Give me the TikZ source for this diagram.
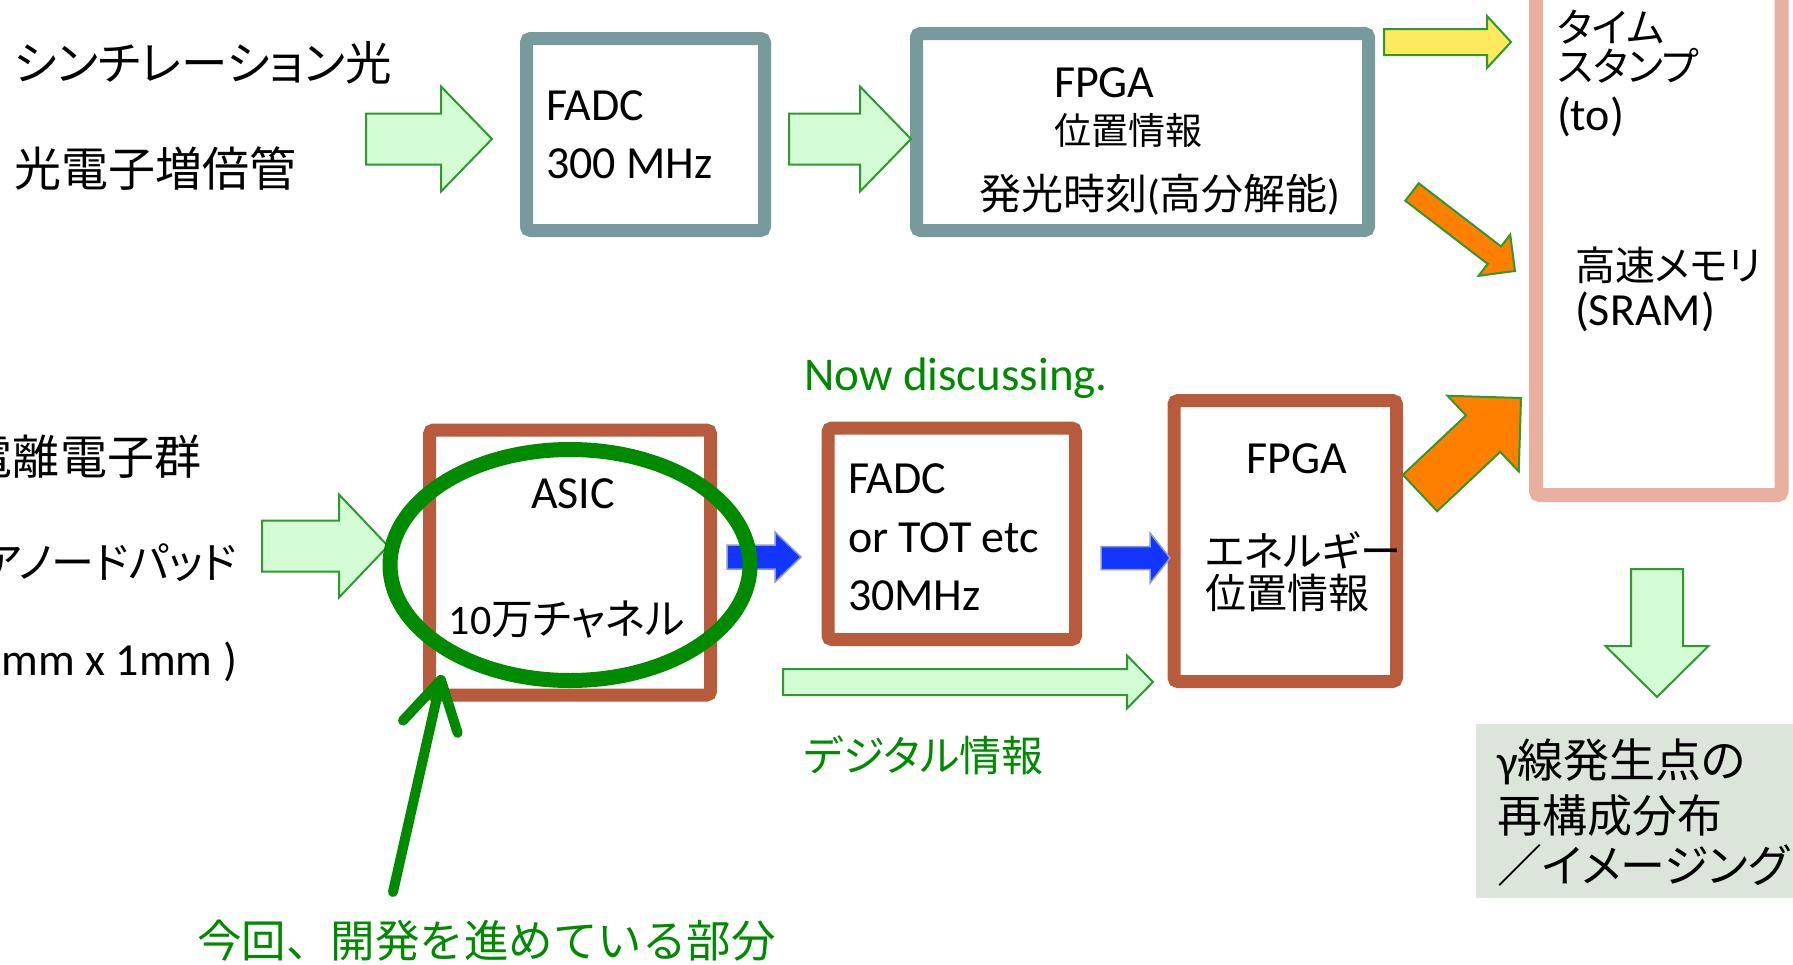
\documentclass[tikz,border=0pt]{standalone}
\usepackage{fontspec}
\setmainfont{Carlito}
\newfontfamily\jp[RawFeature=+palt]{Noto Sans CJK JP}
\newfontfamily\jpw{Noto Sans CJK JP}
\usetikzlibrary{calc,arrows.meta}
\newcommand\fsz[1]{\fontsize{#1pt}{#1pt}\selectfont}
\definecolor{tealc}{HTML}{779A9C}
\definecolor{brownc}{HTML}{B85A3C}
\definecolor{pinkc}{HTML}{E9B0A0}
\definecolor{lgreen}{HTML}{D4FCD4}
\definecolor{agreen}{HTML}{2E9A2E}
\definecolor{yelc}{HTML}{FFE95C}
\definecolor{orac}{HTML}{FF7F00}
\definecolor{bluec}{HTML}{1236FF}
\definecolor{blueedge}{HTML}{8A9AD0}
\definecolor{tgreen}{HTML}{008A00}
\definecolor{gboxc}{HTML}{DCE5DA}
% block arrow: style, tail coord, tip coord, body half width, head half width, head length
\newcommand\blockarr[6]{%
  \coordinate (ba-n) at ($(#3)!#6!(#2)$);
  \draw[#1] ($(#2)!#4!90:(#3)$) -- ($(ba-n)!#4!90:(#3)$) -- ($(ba-n)!#5!90:(#3)$) -- (#3)
    -- ($(ba-n)!#5!-90:(#3)$) -- ($(ba-n)!#4!-90:(#3)$) -- ($(#2)!#4!-90:(#3)$) -- cycle;}
\tikzset{
  lab/.style={inner sep=0pt, outer sep=0pt, text=black},
  jpf/.style={lab, font=\jp\fsz{#1}},
  jpwf/.style={lab, font=\jpw\fsz{#1}},
  laf/.style={lab, font=\fsz{#1}},
  boxT/.style={draw=tealc, line width=13pt, rounded corners=4pt, inner sep=0pt},
  boxB/.style={draw=brownc, line width=13pt, rounded corners=4pt, inner sep=0pt},
  boxP/.style={draw=pinkc, line width=14pt, rounded corners=4pt, inner sep=0pt},
  garrow/.style={fill=lgreen, draw=agreen, line width=2pt, line join=miter},
  yarrow/.style={fill=yelc, draw=agreen, line width=2pt, line join=miter},
  oarrow/.style={fill=orac, draw=agreen, line width=2pt, line join=miter},
  barrow/.style={fill=bluec, draw=blueedge, line width=1.5pt, line join=miter},
}
\begin{document}
\begin{tikzpicture}[x=1pt,y=-1pt]
\useasboundingbox (0,0) rectangle (1793,964);
\clip (0,0) rectangle (1793,964);
\fill[white] (0,0) rectangle (1793,964);

% boxes
\node[boxT, minimum width=238pt, minimum height=192pt] (fadc1) at (645.5,134.5) {};
\node[boxT, minimum width=452pt, minimum height=197pt] (fpga1) at (1142.5,132) {};
\node[boxP, minimum width=245.5pt, minimum height=525pt] (sram) at (1658.75,232.5) {};
\node[boxB, minimum width=281pt, minimum height=265pt] (asic) at (570,562.5) {};
\node[boxB, minimum width=247.5pt, minimum height=211.5pt] (fadc2) at (951.75,533.75) {};
\node[boxB, minimum width=222.5pt, minimum height=281pt] (fpga2) at (1285.25,541) {};
\node[fill=gboxc, inner sep=0pt, minimum width=317pt, minimum height=174pt] (gbox) at (1634.5,811) {};

% block arrows
\coordinate (a1s) at (366,139); \coordinate (a1e) at (492,139);
\blockarr{garrow}{a1s}{a1e}{25.5pt}{52.5pt}{51pt}
\coordinate (a2s) at (789,139); \coordinate (a2e) at (911,139);
\blockarr{garrow}{a2s}{a2e}{25.5pt}{52.5pt}{51pt}
\coordinate (ays) at (1384,42); \coordinate (aye) at (1511,42);
\blockarr{yarrow}{ays}{aye}{13pt}{26pt}{24pt}
\coordinate (ao1s) at (1412,192); \coordinate (ao1e) at (1515,271);
\blockarr{oarrow}{ao1s}{ao1e}{11pt}{26pt}{26pt}
\coordinate (ao2s) at (1420,493); \coordinate (ao2e) at (1521,398);
\blockarr{oarrow}{ao2s}{ao2e}{25pt}{52pt}{52pt}
\coordinate (a3s) at (262,546); \coordinate (a3e) at (388,546);
\blockarr{garrow}{a3s}{a3e}{25.5pt}{51.5pt}{49pt}
\coordinate (ab1s) at (727,557); \coordinate (ab1e) at (801,557);
\blockarr{barrow}{ab1s}{ab1e}{12pt}{25pt}{26pt}
\coordinate (ab2s) at (1101,558); \coordinate (ab2e) at (1170,558);
\blockarr{barrow}{ab2s}{ab2e}{11.5pt}{25pt}{20pt}
\coordinate (ads) at (783,682); \coordinate (ade) at (1153,682);
\blockarr{garrow}{ads}{ade}{13pt}{26.5pt}{26pt}
\coordinate (avs) at (1657,569); \coordinate (ave) at (1657,697);
\blockarr{garrow}{avs}{ave}{26pt}{51.5pt}{51pt}

% ellipse
\draw[tgreen, line width=15pt] (570,565) ellipse [x radius=180, y radius=115.5];

% pointer arrow
\coordinate (ptrs) at (393,892); \coordinate (ptre) at (442,675);
\draw[tgreen, line width=10pt, line cap=round, -{Straight Barb[length=48pt, width=56pt, round]}] (ptrs) -- (ptre);

% texts top
\node[jpf=46.5, anchor=west] (scint) at (14,63) {シンチレーション光};
\node[jpf=47, anchor=west] (pmt) at (14,169) {光電子増倍管};
\node[laf=46, anchor=base west] (fadc1a) at (546,120) {FADC};
\node[laf=46, anchor=base west] (fadc1b) at (546,178) {300 MHz};
\node[laf=46, anchor=base west] (fpga1a) at (1054,97) {FPGA};
\node[jpf=37, anchor=west] (fpga1b) at (1054,130) {位置情報};
\node[jpf=42, anchor=west] (fpga1c) at (979,195) {発光時刻{\rmfamily(}高分解能{\rmfamily)}};
\node[jpf=40, anchor=west] (ts1) at (1557,27) {タイム};
\node[jpf=40, anchor=west] (ts2) at (1557,66) {スタンプ};
\node[laf=46, anchor=base west] (ts3) at (1557,130) {(to)};
\node[jpf=40, anchor=west] (mem1) at (1575,265) {高速メモリ};
\node[laf=46, anchor=base west] (mem2) at (1575,325) {(SRAM)};

% texts bottom
\node[jpf=47, anchor=east] (ion) at (201,457) {電離電子群};
\node[jpf=43, anchor=east] (anode) at (237,563) {アノードパッド};
\node[laf=46, anchor=base east] (pad) at (237,675) {(1mm x 1mm )};
\node[laf=46, anchor=base] (asica) at (573,508) {ASIC};
\node[laf=42, anchor=center] (asicb) at (567,620) {10{\jp 万チャネル}};
\node[laf=46, anchor=base west] (fadc2a) at (848,493) {FADC};
\node[laf=46, anchor=base west] (fadc2b) at (848,552) {or TOT etc};
\node[laf=46, anchor=base west] (fadc2c) at (848,610) {30MHz};
\node[laf=46, anchor=base] (fpga2a) at (1297,473) {FPGA};
\node[jpf=41, anchor=west] (fpga2b) at (1205,550) {エネルギー};
\node[jpf=41, anchor=west] (fpga2c) at (1205,593) {位置情報};
\node[laf=47, anchor=base west, text=tgreen] (now) at (804,390) {Now discussing.};
\node[jpf=42, anchor=west, text=tgreen] (digi) at (804,755) {デジタル情報};
\node[jpwf=44.5, anchor=west, text=tgreen] (dev) at (197,941) {今回、開発を進めている部分};
\node[jpf=46, anchor=west] (g1) at (1497,762) {{\rmfamily γ}線発生点の};
\node[jpf=45, anchor=west] (g2) at (1497,816) {再構成分布};
\node[jpf=45, anchor=west] (g3) at (1497,865) {／イメージング};
\end{tikzpicture}
\end{document}
